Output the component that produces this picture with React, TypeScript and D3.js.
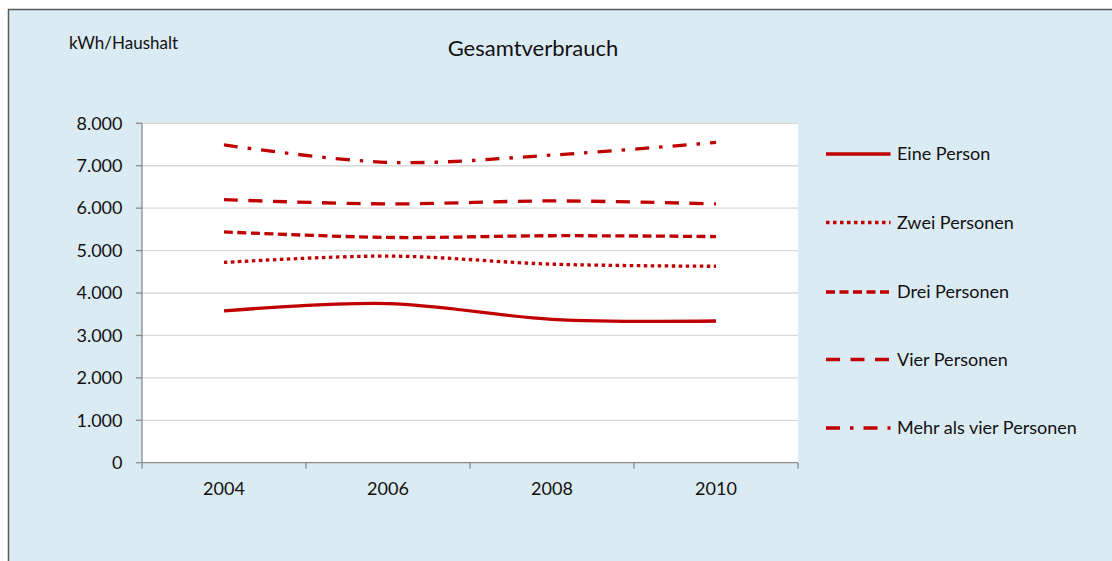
import React from "react";
import * as d3 from "d3";

// Jahre auf der x-Achse
const years = ["2004", "2006", "2008", "2010"];

// Verbrauch in kWh je Haushalt, nach Haushaltsgröße
const einePerson = [3580, 3750, 3380, 3340];
const zweiPersonen = [4720, 4870, 4680, 4630];
const dreiPersonen = [5440, 5310, 5350, 5330];
const vierPersonen = [6200, 6100, 6170, 6100];
const mehrAlsVier = [7490, 7080, 7250, 7550];

const seriesNames = [
  "Eine Person",
  "Zwei Personen",
  "Drei Personen",
  "Vier Personen",
  "Mehr als vier Personen",
];

const yTicks = [0, 1000, 2000, 3000, 4000, 5000, 6000, 7000, 8000];

const W = 1112;
const H = 561;
const FONT = "Lato, 'Open Sans', sans-serif";
const RED = "#c00000";
const TEXT = "#111111";

const plot = { left: 142, right: 798, top: 123.3, bottom: 462.7 };

const dashes = ["", "3.5 3.5", "9 4.5", "14 10.5", "14 10 3.5 10"];

export default function App() {
  const x = d3
    .scaleBand<string>()
    .domain(years)
    .range([plot.left, plot.right])
    .paddingInner(0)
    .paddingOuter(0);
  const y = d3.scaleLinear().domain([0, 8000]).range([plot.bottom, plot.top]);

  const allSeries = [einePerson, zweiPersonen, dreiPersonen, vierPersonen, mehrAlsVier];

  const line = d3
    .line<number>()
    .x((_, i) => (x(years[i]) as number) + x.bandwidth() / 2)
    .y((d) => y(d))
    .curve(d3.curveCatmullRom.alpha(0.5));

  const fmt = (v: number) =>
    v === 0 ? "0" : d3.format(",")(v).replace(/,/g, ".");

  const boundaries = d3.range(years.length + 1).map((i) => plot.left + i * x.bandwidth());

  const legendRows = [154, 222.5, 292, 359.5, 428];

  return (
    <svg
      width={W}
      height={H}
      style={{ position: "absolute", left: 0, top: 0, background: "#fff" }}
      fontFamily={FONT}
    >
      {/* Diagrammrahmen */}
      <rect x={8.5} y={9.5} width={W + 20} height={H + 20} fill="#dbebf3" stroke="#5a5a5a" strokeWidth={1.5} />

      {/* Zeichenfläche */}
      <rect x={plot.left} y={plot.top} width={plot.right - plot.left} height={plot.bottom - plot.top} fill="#ffffff" />

      {/* Gitternetzlinien */}
      {yTicks.slice(1).map((t) => (
        <line key={t} x1={plot.left} x2={plot.right} y1={y(t)} y2={y(t)} stroke="#d9d9d9" strokeWidth={1.3} />
      ))}

      {/* y-Achse */}
      <line x1={plot.left} x2={plot.left} y1={plot.top} y2={plot.bottom} stroke="#8c8c8c" strokeWidth={1.3} />
      {yTicks.map((t) => (
        <g key={t}>
          <line x1={plot.left - 6} x2={plot.left} y1={y(t)} y2={y(t)} stroke="#8c8c8c" strokeWidth={1.3} />
          <text x={122.5} y={y(t)} dy="0.35em" textAnchor="end" fontSize={18} fill={TEXT}>
            {fmt(t)}
          </text>
        </g>
      ))}

      {/* x-Achse */}
      <line x1={plot.left} x2={plot.right} y1={plot.bottom} y2={plot.bottom} stroke="#8c8c8c" strokeWidth={1.3} />
      {boundaries.map((bx, i) => (
        <line key={i} x1={bx} x2={bx} y1={plot.bottom} y2={plot.bottom + 6} stroke="#8c8c8c" strokeWidth={1.3} />
      ))}
      {years.map((yr) => (
        <text key={yr} x={(x(yr) as number) + x.bandwidth() / 2} y={495} textAnchor="middle" fontSize={18} fill={TEXT}>
          {yr}
        </text>
      ))}

      {/* Datenreihen */}
      {allSeries.map((s, i) => (
        <path
          key={seriesNames[i]}
          d={line(s) || ""}
          fill="none"
          stroke={RED}
          strokeWidth={3.3}
          strokeDasharray={dashes[i] || undefined}
        />
      ))}

      {/* Titel und Einheit */}
      <text x={533} y={56} textAnchor="middle" fontSize={22} fill={TEXT}>
        Gesamtverbrauch
      </text>
      <text x={69} y={48.5} fontSize={17} fill={TEXT}>
        kWh/Haushalt
      </text>

      {/* Legende */}
      {seriesNames.map((name, i) => (
        <g key={name}>
          <line
            x1={826}
            x2={890.5}
            y1={legendRows[i]}
            y2={legendRows[i]}
            stroke={RED}
            strokeWidth={3.3}
            strokeDasharray={dashes[i] || undefined}
          />
          <text x={897} y={legendRows[i]} dy="0.35em" fontSize={18} fill={TEXT}>
            {name}
          </text>
        </g>
      ))}
    </svg>
  );
}
